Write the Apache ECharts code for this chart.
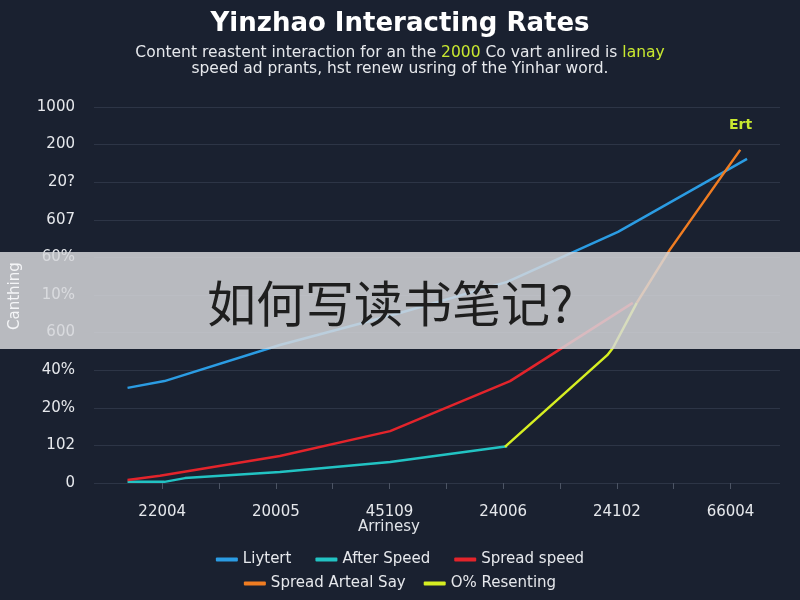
<!DOCTYPE html>
<html><head><meta charset="utf-8">
<script src="https://cdn.jsdelivr.net/npm/echarts@6/dist/echarts.min.js"></script>
<style>html,body{margin:0;padding:0;background:#1a2130}#c{width:800px;height:600px}</style>
</head><body><div id="c"></div>
<script>
const yTickLabels = ['0','102','20%','40%','600','10%','60%','607','20?','200','1000'];
const xTickLabels = {1:'22004',3:'20005',5:'45109',7:'24006',9:'24102',11:'66004'};
const seriesNames = ['Liytert','After Speed','Spread speed','Spread Arteal Say','O% Resenting'];
const liytertX = [0.39,1.04,3.07,5.18,7.07,9.02,11.29];
const liytertY = [2.53,2.71,3.67,4.52,5.35,6.68,8.62];
const afterX = [0.39,1.04,1.40,3.07,5.01,7.07];
const afterY = [0.03,0.03,0.13,0.29,0.56,0.98];
const spreadX = [0.39,0.96,3.07,5.01,7.12,9.28];
const spreadY = [0.08,0.19,0.72,1.38,2.71,4.79];
const arteX = [9.35,9.93,11.17];
const arteY = [4.79,6.2,8.86];
const resentX = [7.03,8.83,8.93,9.35];
const resentY = [0.96,3.40,3.59,4.79];
const colors = ['#2b9ce3','#22c3c3','#e3242b','#f07d22','#d6ee22'];

function pairs(xs, ys){ return xs.map((x,i)=>[x,ys[i]]); }
const chart = echarts.init(document.getElementById('c'));
const lineData = [pairs(liytertX,liytertY),pairs(afterX,afterY),pairs(spreadX,spreadY),pairs(arteX,arteY),pairs(resentX,resentY)];
const F = 'DejaVu Sans';
chart.setOption({
  backgroundColor:'#1a2130',
  title:{
    text:'Yinzhao Interacting Rates',
    left:'center', top:6,
    textStyle:{color:'#ffffff',fontSize:26,fontWeight:'bold',fontFamily:F},
    subtext:'Content reastent interaction for an the {g|2000} Co vart anlired is {g|lanay}\nspeed ad prants, hst renew usring of the Yinhar word.',
    itemGap:8,
    subtextStyle:{color:'#e6e8ec',fontSize:15.5,fontFamily:F,lineHeight:16,
      rich:{g:{color:'#c8e830',fontSize:15.5,fontFamily:F}}}
  },
  legend:[
    {data:seriesNames.slice(0,3),top:547,left:'center',itemWidth:22,itemHeight:4,itemGap:24,icon:'roundRect',
     textStyle:{color:'#e6e8ec',fontSize:15,fontFamily:F}},
    {data:seriesNames.slice(3),top:571,left:'center',itemWidth:22,itemHeight:4,itemGap:18,icon:'roundRect',
     textStyle:{color:'#e6e8ec',fontSize:15,fontFamily:F}}
  ],
  grid:{left:94,right:20,top:107,bottom:117},
  xAxis:{type:'value',min:-0.2,max:11.87,
    axisLine:{show:false},
    splitLine:{show:false},
    axisTick:{show:true,length:6,lineStyle:{color:'#4c5464'},customValues:[1,2,3,4,5,6,7,8,9,10,11]},
    axisLabel:{color:'#e6e8ec',fontSize:15,margin:22,fontFamily:F,customValues:[1,3,5,7,9,11],
      formatter:v=>xTickLabels[Math.round(v)]||''}
  },
  yAxis:{type:'value',min:0,max:10,interval:1,
    axisLine:{show:false},axisTick:{show:false},
    splitLine:{lineStyle:{color:'#2d3546',width:1}},
    axisLabel:{color:'#e6e8ec',fontSize:15,margin:19,fontFamily:F,
      formatter:v=>yTickLabels[Math.round(v)]}
  },
  series:seriesNames.map((n,i)=>({
    name:n,type:'line',data:lineData[i],showSymbol:false,symbol:'none',
    lineStyle:{width:2.5,color:colors[i]},itemStyle:{color:colors[i]},z:i===3?5:3
  })),
  graphic:[
    {type:'text',left:729,top:118,z:50,style:{text:'Ert',fill:'#c8e830',font:'bold 14px "DejaVu Sans"'}},
    {type:'text',left:358,top:520,z:50,style:{text:'Arrinesy',fill:'#e0e3e8',font:'15px "DejaVu Sans"'}},
    {type:'rect',shape:{x:0,y:252,width:800,height:97},z:100,style:{fill:'rgba(214,216,219,0.84)'}},
    {type:'text',left:207,top:279,z:101,style:{text:'如何写读书笔记?',fill:'#1e1e1e',font:'49px "Noto Sans CJK SC"'}},
    {type:'text',x:8,y:330,rotation:Math.PI/2,z:102,style:{text:'Canthing',fill:'#f4f5f7',font:'15px "DejaVu Sans"'}}
  ]
});
</script></body></html>
